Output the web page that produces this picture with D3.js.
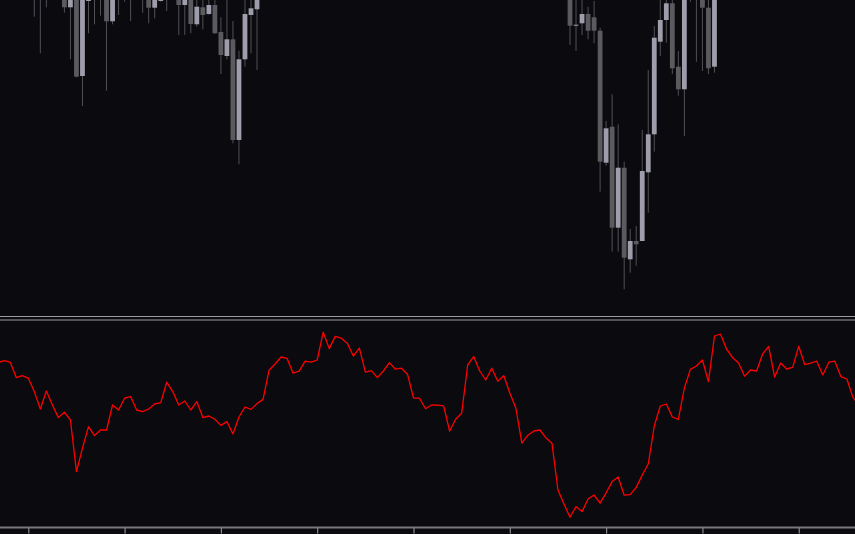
<!DOCTYPE html>
<html><head><meta charset="utf-8">
<script src="https://cdn.jsdelivr.net/npm/d3@7"></script>
<style>html,body{margin:0;padding:0;background:#0a0a0f;overflow:hidden}</style>
</head><body>
<svg id="chart" width="855" height="534"></svg>
<script>
// ---- data ----
const candleIndex = [6,7,8,11,12,13,14,15,16,17,18,19,20,21,22,24,25,26,27,28,30,31,32,33,34,35,36,37,38,39,40,41,42,43,
  95,96,97,98,99,100,101,102,103,104,105,106,107,108,109,110,111,112,113,114,115,116,117,118,119];
const candleOpen = [1508,1504,1509,1508,1492.7,1506,1424,1499,1506,1505,1507,1478.7,1506,1505,1508,1506,1507,1492.3,1499,1507,1506,1495,1505,1475.7,1492.7,1486,1495,1468,1444,1460.7,1360,1440.7,1485,1490.7,
  1506,1474.5,1476.7,1486,1482.7,1469.3,1337.3,1373.3,1272.3,1332.3,1240.7,1259,1259,1327.7,1365.7,1458.3,1480,1496.7,1433.3,1410.7,1506,1508,1510,1492.3,1433.3];
const candleHigh = [1512,1515,1512,1512,1510,1510,1508,1510,1512,1513,1510,1509,1514,1512,1511,1513,1510,1509,1508,1511,1510,1509,1509,1503,1501,1501,1502,1482.7,1502,1479,1449.3,1502,1503,1510,
  1510,1508,1501,1493.3,1499,1472.3,1379,1405.7,1375.7,1338.3,1271,1274,1370,1430,1474,1502,1503,1503,1449,1508,1514,1512,1514,1503,1506];
const candleLow = [1483.3,1446.7,1492.7,1487.3,1440.7,1422.7,1394,1466.7,1475.7,1484.3,1409.3,1475.7,1485,1498.3,1479,1487.3,1476.7,1481.7,1498.5,1489,1465,1465,1466.7,1473.3,1470.7,1485.3,1466.3,1426,1440.7,1356.7,1335.7,1433.3,1446.7,1430,
  1455,1449,1465,1460.7,1456.7,1308.3,1334.3,1248.3,1248.3,1210.7,1227.3,1234.3,1259,1287.3,1348.3,1444,1457.3,1426,1404.3,1364,1498.3,1438.3,1429,1426,1427.3];
const candleClose = [1505,1509,1504,1492.7,1506,1423.3,1505,1507,1503,1508,1478.7,1504,1509,1508,1504,1509,1492.3,1506,1504,1504,1495,1505,1476,1493.3,1485,1495,1466.7,1445,1460.7,1360,1440.7,1486,1491.7,1506,
  1474.3,1475.3,1486,1469.3,1469.3,1338.3,1371.7,1272.3,1332.3,1242.3,1259,1255.7,1329,1365.7,1462.3,1480,1496.7,1431.7,1410.7,1503,1509,1505,1492.3,1431.7,1502];

const oscValues = [80.7,81.7,80.9,73.2,74.2,72.9,66.2,57.5,66.5,59.5,53.2,55.9,52,26.2,37.9,48.7,44.2,47,47,59.5,
  57,62.9,63.7,57,56.2,57.5,60,60.7,70.9,66.2,59.5,61.5,57,61.2,53.2,54,52.4,49.3,51.2,45,
  53.5,58.5,57.3,60.2,62.3,76.9,80,83.5,82.8,75.4,76.4,81.4,80.9,82,95.9,87.7,93.8,92.9,90.4,84,
  87.9,75.9,76.7,73.2,76.5,80.7,77.4,77.9,74.9,63,62.9,57.6,59.5,59.4,59.1,46.5,52.4,55.4,79.5,83.7,
  76.5,72,77.9,71.4,74.1,65.5,58,40.4,44.4,46.5,47,43.1,40.4,17,10,3.4,8.7,6.2,12.5,14.5,
  10.4,15.6,21.2,23.5,14.4,14.7,18.3,24.5,30,49,59,60,53.5,52.3,68,77.3,79,82,71.2,94,
  95,87.5,83.3,80.5,73.9,77,76.5,85,88.8,73.5,80.5,77.5,78.3,88.9,79.7,80.4,81.4,74.5,80.9,81.4,
  73.7,72.5,63.3,59.5];

const axisTickIndex = [5,21,37,53,69,85,101,117,133];

// ---- drawing ----
const W = 855, H = 534;
const svg = d3.select('#chart');
svg.append('rect').attr('width', W).attr('height', H).attr('fill', '#0a0a0f');

const x = d3.scaleLinear().domain([0, 142]).range([-1.8, 852.9]);
const yPrice = d3.scaleLinear().domain([1184, 1500]).range([316, 0]);
const yOsc = d3.scaleLinear().domain([0, 100]).range([524, 324]);

const defs = svg.append('defs');
defs.append('clipPath').attr('id', 'clipTop').append('rect').attr('x', 0).attr('y', 0).attr('width', W).attr('height', 315);
defs.append('clipPath').attr('id', 'clipBot').append('rect').attr('x', 0).attr('y', 322).attr('width', W).attr('height', 204);

const candles = candleIndex.map((i, k) => ({i, o: candleOpen[k], h: candleHigh[k], l: candleLow[k], c: candleClose[k]}));
const gTop = svg.append('g').attr('clip-path', 'url(#clipTop)');
gTop.selectAll('line.wick').data(candles).join('line')
  .attr('class', 'wick')
  .attr('x1', d => x(d.i)).attr('x2', d => x(d.i))
  .attr('y1', d => yPrice(d.h)).attr('y2', d => yPrice(d.l))
  .attr('stroke', '#505056').attr('stroke-width', 1);
gTop.selectAll('rect.body').data(candles).join('rect')
  .attr('class', 'body')
  .attr('x', d => x(d.i) - 2.4).attr('width', 4.8)
  .attr('y', d => yPrice(Math.max(d.o, d.c)))
  .attr('height', d => Math.max(1, Math.abs(yPrice(d.o) - yPrice(d.c))))
  .attr('fill', d => d.c >= d.o ? '#9d9dab' : '#5a5a5f');

// separators
svg.append('line').attr('x1', 0).attr('x2', W).attr('y1', 316.5).attr('y2', 316.5).attr('stroke', '#9a9aa0').attr('stroke-width', 1.2);
svg.append('line').attr('x1', 0).attr('x2', W).attr('y1', 320).attr('y2', 320).attr('stroke', '#9a9aa0').attr('stroke-width', 1.2);

// oscillator
const gBot = svg.append('g').attr('clip-path', 'url(#clipBot)');
gBot.append('path').datum(oscValues)
  .attr('d', d3.line().x((d, i) => x(i)).y(d => yOsc(d)))
  .attr('fill', 'none').attr('stroke', '#ff0000').attr('stroke-width', 1.3).attr('stroke-linejoin', 'round');

// bottom axis
const axis = d3.axisBottom(x).tickValues(axisTickIndex).tickFormat('').tickSize(6).tickSizeOuter(0);
const gAxis = svg.append('g').attr('transform', 'translate(0,527.5)').call(axis);
gAxis.select('.domain').attr('d', 'M0,0H' + W).attr('stroke', '#77777d').attr('stroke-width', 2);
gAxis.selectAll('.tick line').attr('stroke', '#8a8a90').attr('stroke-width', 1.2);
</script>
</body></html>
